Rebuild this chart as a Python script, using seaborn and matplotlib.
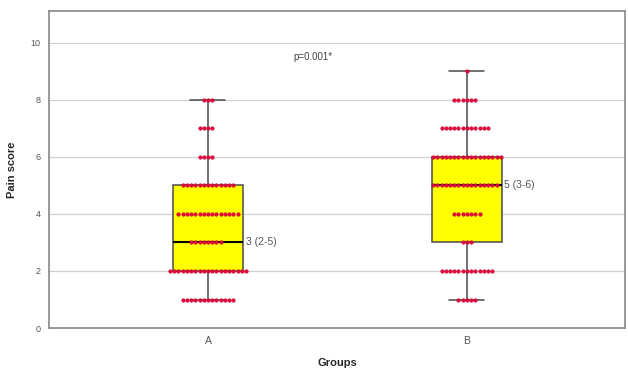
import pandas as pd
import seaborn as sns
import matplotlib
matplotlib.use("Agg")
import matplotlib.pyplot as plt

# pain score values and how many patients had each
groups = ["A", "B"]
scores = [1, 2, 3, 4, 5, 6, 7, 8, 9]
counts_a = [13, 19, 8, 15, 13, 4, 4, 3, 0]
counts_b = [5, 13, 3, 7, 16, 17, 12, 6, 1]
median_labels = ["3 (2-5)", "5 (3-6)"]
p_label = "p=0.001*"

rows = []
for g, counts in zip(groups, [counts_a, counts_b]):
    for s, c in zip(scores, counts):
        rows += [{"Groups": g, "Pain score": s}] * c
df = pd.DataFrame(rows)

sns.set_style("white")
plt.rcParams["font.family"] = ["Liberation Sans", "DejaVu Sans"]

fig = plt.figure(figsize=(6.28, 3.72), dpi=100)
ax = fig.add_axes([0.078, 0.118, 0.917, 0.852])

ax.yaxis.grid(True, color="#d0d0d0", linewidth=0.9)
ax.set_axisbelow(True)

sns.boxplot(data=df, x="Groups", y="Pain score", order=groups, width=0.27,
            color="#ffff00", linecolor="#4a4a4a", linewidth=1.1, saturation=1,
            showfliers=False, whis=3,
            medianprops={"color": "black", "linewidth": 1.5}, ax=ax)
sns.swarmplot(data=df, x="Groups", y="Pain score", order=groups, size=2.6,
              color="#e4083c", edgecolor="#c0002e", linewidth=0.3, ax=ax)

for i, (g, lab) in enumerate(zip(groups, median_labels)):
    med = df.loc[df["Groups"] == g, "Pain score"].median()
    ax.text(i + 0.145, med, lab, va="center", ha="left", fontsize=7.5,
            color="#555555")
ax.text(0.405, 9.5, p_label, ha="center", va="center", fontsize=7,
        color="#444444")

ax.set_xlim(-0.614, 1.61)
ax.set_ylim(0, 11.1)
ax.set_yticks([0, 2, 4, 6, 8, 10])
ax.tick_params(length=0, colors="#555555")
ax.tick_params(axis="y", labelsize=6.5, pad=6)
ax.tick_params(axis="x", labelsize=7.5, pad=6)
ax.set_xlabel("Groups", fontsize=8, fontweight="bold", labelpad=8)
ax.set_ylabel("Pain score", fontsize=8, fontweight="bold", labelpad=10)
for sp in ax.spines.values():
    sp.set_color("#888888")
    sp.set_linewidth(1.2)

fig.savefig("out.png", dpi=100)
